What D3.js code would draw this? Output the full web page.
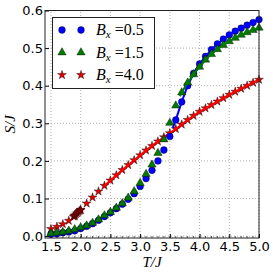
<!DOCTYPE html>
<html>
<head>
<meta charset="utf-8">
<script src="https://cdn.jsdelivr.net/npm/d3@7"></script>
<style>
  body { margin: 0; background: #fff; }
  .tick text { font-family: "DejaVu Sans", sans-serif; font-size: 13px; fill: #000; }
</style>
</head>
<body>
<div id="chart"></div>
<script>
// temperatures (T/J) of the simulated points
var temps = [1.5, 1.6, 1.7, 1.8, 1.9, 2.0, 2.1, 2.2, 2.3, 2.4, 2.5, 2.6, 2.7, 2.8, 2.9, 3.0,
    3.1, 3.2, 3.3, 3.4, 3.5, 3.6, 3.7, 3.8, 3.9, 4.0, 4.1, 4.2, 4.3, 4.4, 4.5, 4.6, 4.7, 4.8, 4.9, 5.0];

// entropy S/J for each field
var sB05 = [0.005, 0.006, 0.009, 0.011, 0.014, 0.020, 0.026, 0.033, 0.042, 0.052, 0.062, 0.073,
    0.085, 0.098, 0.113, 0.132, 0.153, 0.175, 0.200, 0.229, 0.265, 0.309, 0.357, 0.400,
    0.433, 0.458, 0.478, 0.496, 0.511, 0.524, 0.535, 0.545, 0.553, 0.561, 0.568, 0.576];
var sB15 = [0.007, 0.009, 0.011, 0.014, 0.018, 0.023, 0.028, 0.035, 0.044, 0.055, 0.064, 0.075,
    0.087, 0.102, 0.119, 0.141, 0.165, 0.190, 0.221, 0.257, 0.301, 0.347, 0.382, 0.408,
    0.430, 0.450, 0.469, 0.484, 0.497, 0.508, 0.518, 0.527, 0.535, 0.542, 0.548, 0.554];
var sB40 = [0.019, 0.025, 0.032, 0.041, 0.053, 0.069, 0.087, 0.103, 0.119, 0.134, 0.148, 0.162,
    0.176, 0.189, 0.202, 0.215, 0.228, 0.240, 0.252, 0.263, 0.274, 0.285, 0.297, 0.309,
    0.320, 0.331, 0.340, 0.349, 0.358, 0.367, 0.376, 0.384, 0.392, 0.400, 0.408, 0.416];

// dense dark red points around T = 2
var clusterT = [1.88, 1.90, 1.92, 1.94, 1.96, 1.98, 2.00];
var clusterS = [0.052, 0.055, 0.058, 0.061, 0.064, 0.067, 0.070];

// where the solid curves begin
var lineStartB05 = [3.55, 0.288];
var lineStartB15 = [3.67, 0.372];
var lineStartB40 = [2.4, 0.134];

var legendLabels = ["0.5", "1.5", "4.0"];
var xTicks = [1.5, 2.0, 2.5, 3.0, 3.5, 4.0, 4.5, 5.0];
var yTicks = [0.0, 0.1, 0.2, 0.3, 0.4, 0.5, 0.6];

var width = 273, height = 273;
var margin = { top: 11, right: 14, bottom: 35, left: 45 };

var svg = d3.select("#chart")
    .append("svg")
    .attr("width", width)
    .attr("height", height);

var x = d3.scaleLinear().domain([1.4, 5.0]).range([margin.left, width - margin.right]);
var y = d3.scaleLinear().domain([-0.005, 0.6]).range([height - margin.bottom, margin.top - 0.5]);

var x0 = x.range()[0], x1 = x.range()[1], y0 = y.range()[0], y1 = y.range()[1];

/*********************
 * GRIDLINES
*********************/
svg.append("g")
    .selectAll("line")
    .data(xTicks)
    .enter()
    .append("line")
    .attr("x1", function (d) { return x(d); })
    .attr("x2", function (d) { return x(d); })
    .attr("y1", y0).attr("y2", y1)
    .style("stroke", "#b0b0b0")
    .style("stroke-dasharray", "1,2")
    .style("stroke-width", 1);

svg.append("g")
    .selectAll("line")
    .data(yTicks)
    .enter()
    .append("line")
    .attr("y1", function (d) { return y(d); })
    .attr("y2", function (d) { return y(d); })
    .attr("x1", x0).attr("x2", x1)
    .style("stroke", "#b0b0b0")
    .style("stroke-dasharray", "1,2")
    .style("stroke-width", 1);

/*********************
 * AXES
*********************/
var xAxis = svg.append("g")
    .attr("transform", "translate(0," + y0 + ")")
    .call(d3.axisBottom(x).tickValues(xTicks).tickFormat(d3.format(".1f")).tickSize(-4).tickPadding(4));
xAxis.select(".domain").remove();

// minor ticks on the x axis
var minorX = d3.range(15, 51).map(function (d) { return d / 10; });
svg.append("g")
    .selectAll("line")
    .data(minorX)
    .enter()
    .append("line")
    .attr("x1", function (d) { return x(d); })
    .attr("x2", function (d) { return x(d); })
    .attr("y1", y0).attr("y2", y0 - 2)
    .style("stroke", "#000")
    .style("stroke-width", 0.6);

var yAxis = svg.append("g")
    .attr("transform", "translate(" + x0 + ",0)")
    .call(d3.axisLeft(y).tickValues(yTicks).tickFormat(d3.format(".1f")).tickSize(-4).tickPadding(2));
yAxis.select(".domain").remove();

/*********************
 * DATA
*********************/
function pairs(s) {
    return temps.map(function (t, i) { return [t, s[i]]; });
}

var line = d3.line()
    .x(function (d) { return x(d[0]); })
    .y(function (d) { return y(d[1]); });

function drawSeries(s, shape, size, fill) {
    svg.append("g")
        .selectAll("path")
        .data(pairs(s))
        .enter()
        .append("path")
        .attr("d", d3.symbol().type(shape).size(size))
        .attr("transform", function (d) { return "translate(" + x(d[0]) + "," + y(d[1]) + ")"; })
        .style("fill", fill)
        .style("stroke", "#000")
        .style("stroke-width", 0.4);
}

function drawCurve(s, start, color) {
    var pts = [start].concat(pairs(s).filter(function (d) { return d[0] > start[0]; }));
    svg.append("path")
        .datum(pts)
        .attr("d", line)
        .style("fill", "none")
        .style("stroke", color)
        .style("stroke-width", 2);
}

drawSeries(sB40, d3.symbolStar, 24, "#e00000");

svg.append("g")
    .selectAll("path")
    .data(clusterT)
    .enter()
    .append("path")
    .attr("d", d3.symbol().type(d3.symbolStar).size(24))
    .attr("transform", function (d, i) { return "translate(" + x(d) + "," + y(clusterS[i]) + ")"; })
    .style("fill", "#7a0000")
    .style("stroke", "#3a0000")
    .style("stroke-width", 0.4);

drawCurve(sB40, lineStartB40, "#ff0000");

drawSeries(sB05, d3.symbolCircle, 36, "#0000ff");
drawCurve(sB05, lineStartB05, "#0000ff");
drawSeries(sB15, d3.symbolTriangle, 30, "#007a00");
drawCurve(sB15, lineStartB15, "#007a00");

// frame
svg.append("rect")
    .attr("x", x0).attr("y", y1)
    .attr("width", x1 - x0).attr("height", y0 - y1)
    .style("fill", "none")
    .style("stroke", "#222")
    .style("stroke-width", 1);

/*********************
 * LABELS
*********************/
svg.append("text")
    .attr("x", (x0 + x1) / 2)
    .attr("y", 267)
    .style("text-anchor", "middle")
    .style("font-family", "'Liberation Serif', serif")
    .style("font-style", "italic")
    .style("font-size", "15px")
    .text("T/J");

svg.append("text")
    .attr("transform", "translate(15," + ((y0 + y1) / 2) + ") rotate(-90)")
    .style("text-anchor", "middle")
    .style("font-family", "'Liberation Serif', serif")
    .style("font-style", "italic")
    .style("font-size", "15px")
    .text("S/J");

/*********************
 * LEGEND
*********************/
var legend = svg.append("g");
legend.append("rect")
    .attr("x", 52.5).attr("y", 17.5)
    .attr("width", 102).attr("height", 71)
    .style("fill", "#fff")
    .style("stroke", "#222")
    .style("stroke-width", 1);

var legendShapes = [
    { shape: d3.symbolCircle, size: 36, fill: "#0000ff" },
    { shape: d3.symbolTriangle, size: 30, fill: "#007a00" },
    { shape: d3.symbolStar, size: 24, fill: "#e00000" }
];

legendShapes.forEach(function (s, i) {
    var ly = 30 + i * 22.5;
    [62, 81].forEach(function (lx) {
        legend.append("path")
            .attr("d", d3.symbol().type(s.shape).size(s.size))
            .attr("transform", "translate(" + lx + "," + ly + ")")
            .style("fill", s.fill)
            .style("stroke", "#000")
            .style("stroke-width", 0.4);
    });
    var t = legend.append("text")
        .attr("x", 96)
        .attr("y", ly + 5)
        .style("font-family", "'Liberation Serif', serif")
        .style("font-size", "16px");
    t.append("tspan").style("font-style", "italic").text("B");
    t.append("tspan").style("font-style", "italic").style("font-size", "11px").attr("dy", 3).text("x");
    t.append("tspan").attr("dy", -3).text(" =" + legendLabels[i]);
});
</script>
</body>
</html>
